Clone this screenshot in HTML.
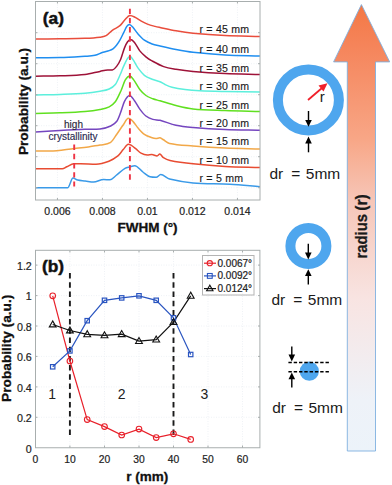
<!DOCTYPE html>
<html><head><meta charset="utf-8"><style>
html,body{margin:0;padding:0;background:#fff;}
svg{display:block;}
</style></head><body>
<svg width="392" height="485" viewBox="0 0 392 485">
<rect width="392" height="485" fill="#fff"/>
<g fill="none" stroke="#e8ecf2" stroke-width="0.7" stroke-dasharray="1,1.5">
<line x1="57.44" y1="2" x2="57.44" y2="200"/>
<line x1="102.44" y1="2" x2="102.44" y2="200"/>
<line x1="147.44" y1="2" x2="147.44" y2="200"/>
<line x1="192.44" y1="2" x2="192.44" y2="200"/>
<line x1="237.44" y1="2" x2="237.44" y2="200"/>
<line x1="36" y1="32.7" x2="260" y2="32.7"/>
<line x1="36" y1="63.7" x2="260" y2="63.7"/>
<line x1="36" y1="94.7" x2="260" y2="94.7"/>
<line x1="36" y1="125.7" x2="260" y2="125.7"/>
<line x1="36" y1="156.7" x2="260" y2="156.7"/>
<line x1="36" y1="187.7" x2="260" y2="187.7"/>
</g>
<path d="M35.50,39.10 C43.67,39.00 51.83,38.93 60.00,38.80 C68.33,38.67 76.67,38.63 85.00,38.30 C90.00,38.10 95.00,37.84 100.00,37.20 C102.03,36.94 104.07,36.74 106.10,35.60 C108.17,34.44 110.23,31.78 112.30,30.30 C114.83,28.48 117.37,27.78 119.90,25.70 C121.43,24.44 122.97,21.88 124.50,20.30 C126.30,18.45 128.10,15.40 129.90,15.40 C131.67,15.40 133.43,16.42 135.20,17.30 C137.23,18.32 139.27,19.98 141.30,21.10 C143.37,22.24 145.43,23.31 147.50,24.10 C150.03,25.07 152.57,25.71 155.10,26.40 C156.73,26.84 158.37,27.16 160.00,27.50 C165.33,28.62 170.67,29.88 176.00,30.80 C181.67,31.78 187.33,32.66 193.00,33.20 C203.67,34.22 214.33,34.97 225.00,35.50 C236.67,36.07 248.33,36.17 260.00,36.50" fill="none" stroke="#e94d3c" stroke-width="1.5" stroke-linejoin="round"/>
<path d="M35.50,57.70 C43.67,57.67 51.83,57.70 60.00,57.60 C68.33,57.50 76.67,56.85 85.00,56.30 C88.33,56.08 91.67,56.06 95.00,55.30 C97.67,54.69 100.33,53.08 103.00,52.20 C105.07,51.52 107.13,51.30 109.20,50.60 C110.47,50.17 111.73,49.72 113.00,48.80 C114.17,47.95 115.33,46.75 116.50,45.30 C117.63,43.89 118.77,42.20 119.90,40.20 C121.17,37.97 122.43,35.13 123.70,32.60 C124.73,30.53 125.77,27.89 126.80,26.40 C127.67,25.15 128.53,24.40 129.40,24.40 C130.57,24.40 131.73,25.92 132.90,27.20 C134.43,28.88 135.97,31.57 137.50,33.30 C139.80,35.90 142.10,38.51 144.40,40.20 C146.97,42.08 149.53,43.05 152.10,44.00 C154.73,44.98 157.37,45.39 160.00,46.00 C165.33,47.23 170.67,48.48 176.00,49.50 C181.67,50.58 187.33,51.66 193.00,52.30 C203.67,53.50 214.33,54.40 225.00,55.00 C236.67,55.66 248.33,55.73 260.00,56.10" fill="none" stroke="#1f8ef0" stroke-width="1.5" stroke-linejoin="round"/>
<path d="M35.50,76.20 C43.67,76.07 51.83,76.08 60.00,75.80 C68.33,75.51 76.67,75.42 85.00,74.50 C90.00,73.95 95.00,72.41 100.00,71.40 C102.57,70.88 105.13,69.90 107.70,69.90 C109.23,69.90 110.77,69.90 112.30,69.90 C113.80,69.90 115.30,68.01 116.80,66.10 C118.10,64.44 119.40,62.27 120.70,59.20 C121.97,56.21 123.23,51.09 124.50,47.90 C125.53,45.29 126.57,43.22 127.60,41.80 C128.60,40.42 129.60,39.50 130.60,39.50 C131.90,39.50 133.20,40.89 134.50,42.50 C136.27,44.69 138.03,48.68 139.80,50.90 C141.83,53.45 143.87,55.11 145.90,56.80 C147.77,58.35 149.63,59.57 151.50,60.60 C155.57,62.84 159.63,65.17 163.70,66.60 C167.80,68.04 171.90,68.53 176.00,69.20 C181.67,70.13 187.33,70.90 193.00,71.40 C203.67,72.34 214.33,73.01 225.00,73.50 C236.67,74.04 248.33,74.17 260.00,74.50" fill="none" stroke="#9e1238" stroke-width="1.5" stroke-linejoin="round"/>
<path d="M35.50,94.90 C43.67,94.73 51.83,94.66 60.00,94.40 C68.33,94.13 76.67,93.95 85.00,93.30 C90.00,92.91 95.00,92.19 100.00,91.30 C103.07,90.76 106.13,90.36 109.20,89.00 C111.23,88.10 113.27,87.10 115.30,84.50 C116.83,82.54 118.37,78.66 119.90,75.30 C121.17,72.53 122.43,68.88 123.70,66.10 C125.00,63.25 126.30,60.34 127.60,58.40 C128.47,57.11 129.33,56.40 130.20,56.40 C131.37,56.40 132.53,58.97 133.70,60.70 C135.23,62.97 136.77,66.31 138.30,68.40 C140.33,71.17 142.37,73.71 144.40,75.30 C146.97,77.31 149.53,78.15 152.10,79.20 C154.73,80.28 157.37,80.62 160.00,81.70 C161.67,82.38 163.33,83.72 165.00,84.50 C167.33,85.59 169.67,86.70 172.00,87.30 C176.33,88.41 180.67,89.06 185.00,89.60 C190.00,90.22 195.00,90.56 200.00,90.80 C208.33,91.20 216.67,91.33 225.00,91.50 C236.67,91.73 248.33,91.83 260.00,92.00" fill="none" stroke="#5cefdc" stroke-width="1.5" stroke-linejoin="round"/>
<path d="M35.50,113.40 C43.67,113.20 51.83,113.11 60.00,112.80 C68.33,112.48 76.67,112.19 85.00,111.50 C90.00,111.09 95.00,110.47 100.00,109.50 C103.07,108.90 106.13,108.34 109.20,106.80 C111.23,105.78 113.27,104.57 115.30,101.80 C117.20,99.21 119.10,94.86 121.00,90.70 C122.43,87.56 123.87,82.27 125.30,79.90 C126.83,77.37 128.37,76.00 129.90,76.00 C131.17,76.00 132.43,78.17 133.70,79.90 C135.73,82.67 137.77,86.90 139.80,89.50 C141.83,92.10 143.87,94.05 145.90,95.50 C148.20,97.15 150.50,97.94 152.80,98.80 C155.20,99.70 157.60,100.11 160.00,100.80 C165.33,102.34 170.67,104.19 176.00,105.50 C181.67,106.89 187.33,108.32 193.00,108.90 C203.67,109.99 214.33,110.09 225.00,110.50 C236.67,110.95 248.33,111.17 260.00,111.50" fill="none" stroke="#60e020" stroke-width="1.5" stroke-linejoin="round"/>
<path d="M35.50,132.00 C43.67,131.50 51.83,130.95 60.00,130.50 C68.33,130.05 76.67,129.61 85.00,129.30 C90.00,129.11 95.00,129.30 100.00,129.00 C103.57,128.79 107.13,127.63 110.70,126.00 C112.73,125.07 114.77,124.09 116.80,121.30 C118.10,119.52 119.40,115.68 120.70,112.30 C121.97,109.01 123.23,103.71 124.50,101.30 C126.20,98.07 127.90,95.40 129.60,95.40 C131.23,95.40 132.87,98.51 134.50,100.70 C136.27,103.07 138.03,106.73 139.80,109.10 C141.83,111.83 143.87,114.39 145.90,116.00 C148.20,117.82 150.50,118.70 152.80,119.40 C155.20,120.13 157.60,119.69 160.00,120.30 C165.33,121.66 170.67,124.14 176.00,125.30 C181.67,126.54 187.33,127.01 193.00,127.50 C203.67,128.41 214.33,129.07 225.00,129.50 C236.67,129.97 248.33,129.97 260.00,130.20" fill="none" stroke="#7546bf" stroke-width="1.5" stroke-linejoin="round"/>
<path d="M35.50,151.00 C40.33,151.00 45.17,151.00 50.00,151.00 C58.17,151.00 66.33,149.27 74.50,148.40 C79.10,147.91 83.70,147.50 88.30,146.90 C92.20,146.40 96.10,145.90 100.00,145.10 C103.57,144.37 107.13,144.61 110.70,142.30 C112.73,140.98 114.77,137.03 116.80,134.20 C118.87,131.33 120.93,128.06 123.00,125.20 C124.77,122.76 126.53,118.30 128.30,118.30 C129.83,118.30 131.37,119.87 132.90,121.40 C134.70,123.20 136.50,126.27 138.30,128.30 C140.33,130.60 142.37,132.96 144.40,134.40 C146.70,136.03 149.00,136.66 151.30,137.50 C152.83,138.06 154.37,138.60 155.90,138.60 C157.20,138.60 158.50,137.80 159.80,137.80 C160.87,137.80 161.93,138.89 163.00,139.50 C165.20,140.76 167.40,142.93 169.60,143.40 C177.40,145.06 185.20,145.25 193.00,145.90 C203.67,146.79 214.33,147.51 225.00,148.00 C236.67,148.54 248.33,148.67 260.00,149.00" fill="none" stroke="#f2a848" stroke-width="1.5" stroke-linejoin="round"/>
<path d="M35.50,168.80 C44.43,168.80 53.37,168.80 62.30,168.80 C63.80,168.80 65.30,167.47 66.80,166.80 C69.10,165.77 71.40,163.70 73.70,163.70 C76.00,163.70 78.30,163.70 80.60,163.70 C85.73,163.70 90.87,164.20 96.00,164.20 C100.30,164.20 104.60,162.83 108.90,161.20 C111.90,160.06 114.90,158.33 117.90,155.90 C119.67,154.47 121.43,151.57 123.20,149.60 C124.90,147.70 126.60,144.30 128.30,144.30 C129.20,144.30 130.10,144.66 131.00,145.20 C132.57,146.13 134.13,147.45 135.70,148.70 C137.47,150.11 139.23,152.24 141.00,153.20 C143.10,154.34 145.20,155.00 147.30,155.00 C148.80,155.00 150.30,154.50 151.80,154.50 C153.57,154.50 155.33,155.90 157.10,155.90 C158.00,155.90 158.90,154.10 159.80,154.10 C161.00,154.10 162.20,156.96 163.40,157.70 C165.60,159.06 167.80,159.95 170.00,160.40 C177.67,161.98 185.33,162.95 193.00,163.80 C203.67,164.98 214.33,165.90 225.00,166.50 C236.67,167.16 248.33,167.23 260.00,167.60" fill="none" stroke="#e84c32" stroke-width="1.5" stroke-linejoin="round"/>
<path d="M35.50,187.80 C46.20,187.80 56.90,187.80 67.60,187.80 C69.40,187.80 71.20,178.00 73.00,178.00 C74.53,178.00 76.07,179.72 77.60,180.10 C80.13,180.72 82.67,180.68 85.20,181.00 C88.00,181.35 90.80,182.10 93.60,182.10 C96.93,182.10 100.27,179.50 103.60,179.50 C105.73,179.50 107.87,179.80 110.00,179.80 C112.00,179.80 114.00,177.02 116.00,175.50 C119.00,173.22 122.00,170.29 125.00,168.40 C126.50,167.46 128.00,167.41 129.50,167.00 C131.27,166.51 133.03,165.70 134.80,165.70 C137.50,165.70 140.20,170.03 142.90,172.00 C145.27,173.73 147.63,176.23 150.00,176.80 C152.07,177.30 154.13,177.30 156.20,177.30 C157.70,177.30 159.20,174.60 160.70,174.60 C163.67,174.60 166.63,178.34 169.60,179.10 C177.40,181.10 185.20,182.24 193.00,182.90 C205.33,183.94 217.67,183.50 230.00,184.20 C240.00,184.77 250.00,185.87 260.00,186.70" fill="none" stroke="#3a9ae8" stroke-width="1.5" stroke-linejoin="round"/>
<g stroke="#ee3344" stroke-width="1.9" stroke-dasharray="5.4,3.8">
<line x1="129.9" y1="8.7" x2="129.9" y2="180.2"/>
<line x1="74.2" y1="144.6" x2="74.2" y2="186.5"/>
</g>
<rect x="35.5" y="1.5" width="224.5" height="198.5" fill="none" stroke="#a8aeae" stroke-width="1"/>
<g stroke="#a8aeae" stroke-width="1">
<line x1="57.44" y1="200" x2="57.44" y2="198"/><line x1="57.44" y1="1.5" x2="57.44" y2="3.5"/>
<line x1="102.44" y1="200" x2="102.44" y2="198"/><line x1="102.44" y1="1.5" x2="102.44" y2="3.5"/>
<line x1="147.44" y1="200" x2="147.44" y2="198"/><line x1="147.44" y1="1.5" x2="147.44" y2="3.5"/>
<line x1="192.44" y1="200" x2="192.44" y2="198"/><line x1="192.44" y1="1.5" x2="192.44" y2="3.5"/>
<line x1="237.44" y1="200" x2="237.44" y2="198"/><line x1="237.44" y1="1.5" x2="237.44" y2="3.5"/>
<line x1="35.5" y1="32.7" x2="37.5" y2="32.7"/><line x1="260" y1="32.7" x2="258" y2="32.7"/>
<line x1="35.5" y1="63.7" x2="37.5" y2="63.7"/><line x1="260" y1="63.7" x2="258" y2="63.7"/>
<line x1="35.5" y1="94.7" x2="37.5" y2="94.7"/><line x1="260" y1="94.7" x2="258" y2="94.7"/>
<line x1="35.5" y1="125.7" x2="37.5" y2="125.7"/><line x1="260" y1="125.7" x2="258" y2="125.7"/>
<line x1="35.5" y1="156.7" x2="37.5" y2="156.7"/><line x1="260" y1="156.7" x2="258" y2="156.7"/>
<line x1="35.5" y1="187.7" x2="37.5" y2="187.7"/><line x1="260" y1="187.7" x2="258" y2="187.7"/>
</g>
<g font-family="Liberation Sans, sans-serif" font-size="10.5" fill="#222" stroke="#222" stroke-width="0.2" text-anchor="middle">
<text x="57.44" y="215.3">0.006</text>
<text x="102.44" y="215.3">0.008</text>
<text x="147.44" y="215.3">0.01</text>
<text x="192.44" y="215.3">0.012</text>
<text x="237.44" y="215.3">0.014</text>
</g>
<g font-family="Liberation Sans, sans-serif" font-size="10.6" letter-spacing="0.2" fill="#1a1a1a" stroke="#1a1a1a" stroke-width="0.12">
<text x="199.5" y="33.2">r = 45 mm</text>
<text x="199.5" y="52.8">r = 40 mm</text>
<text x="199.5" y="71.6">r = 35 mm</text>
<text x="199.5" y="90.2">r = 30 mm</text>
<text x="199.5" y="108.8">r = 25 mm</text>
<text x="199.5" y="127.0">r = 20 mm</text>
<text x="199.5" y="145.4">r = 15 mm</text>
<text x="199.5" y="163.6">r = 10 mm</text>
<text x="199.5" y="182.2">r = 5 mm</text>
</g>
<text x="42.8" y="23.9" font-family="Liberation Sans, sans-serif" font-size="17.3" font-weight="bold" fill="#111" stroke="#111" stroke-width="0.5">(a)</text>
<text x="147.5" y="232.3" font-family="Liberation Sans, sans-serif" font-size="13.5" font-weight="bold" fill="#111" stroke="#111" stroke-width="0.3" text-anchor="middle">FWHM (°)</text>
<text transform="translate(27.9,101.5) rotate(-90)" font-family="Liberation Sans, sans-serif" font-size="13.7" font-weight="bold" fill="#111" stroke="#111" stroke-width="0.3" text-anchor="middle">Probability (a.u.)</text>
<text x="73.5" y="128" font-family="Liberation Sans, sans-serif" font-size="10" fill="#2a2a3a" stroke="#2a2a3a" stroke-width="0.15" text-anchor="middle">high</text>
<text x="73" y="139.5" font-family="Liberation Sans, sans-serif" font-size="10" fill="#2a2a50" stroke="#2a2a50" stroke-width="0.15" text-anchor="middle">crystallinity</text>
<g fill="none" stroke="#e8ecf2" stroke-width="0.7" stroke-dasharray="1,1.5">
<line x1="69.9" y1="251" x2="69.9" y2="447"/>
<line x1="104.5" y1="251" x2="104.5" y2="447"/>
<line x1="139.0" y1="251" x2="139.0" y2="447"/>
<line x1="173.5" y1="251" x2="173.5" y2="447"/>
<line x1="208.0" y1="251" x2="208.0" y2="447"/>
<line x1="242.5" y1="251" x2="242.5" y2="447"/>
<line x1="36" y1="417.3" x2="260" y2="417.3"/>
<line x1="36" y1="386.9" x2="260" y2="386.9"/>
<line x1="36" y1="356.4" x2="260" y2="356.4"/>
<line x1="36" y1="326.0" x2="260" y2="326.0"/>
<line x1="36" y1="295.6" x2="260" y2="295.6"/>
<line x1="36" y1="265.1" x2="260" y2="265.1"/>
</g>
<rect x="35.5" y="250.3" width="224.4" height="197.45" fill="none" stroke="#a8aeae" stroke-width="1"/>
<g stroke="#a8aeae" stroke-width="1">
<line x1="69.9" y1="447.75" x2="69.9" y2="445.5"/><line x1="69.9" y1="250.5" x2="69.9" y2="252.5"/>
<line x1="104.5" y1="447.75" x2="104.5" y2="445.5"/><line x1="104.5" y1="250.5" x2="104.5" y2="252.5"/>
<line x1="139.0" y1="447.75" x2="139.0" y2="445.5"/><line x1="139.0" y1="250.5" x2="139.0" y2="252.5"/>
<line x1="173.5" y1="447.75" x2="173.5" y2="445.5"/><line x1="173.5" y1="250.5" x2="173.5" y2="252.5"/>
<line x1="208.0" y1="447.75" x2="208.0" y2="445.5"/><line x1="208.0" y1="250.5" x2="208.0" y2="252.5"/>
<line x1="242.5" y1="447.75" x2="242.5" y2="445.5"/><line x1="242.5" y1="250.5" x2="242.5" y2="252.5"/>
<line x1="35.5" y1="417.3" x2="37.5" y2="417.3"/><line x1="260" y1="417.3" x2="258" y2="417.3"/>
<line x1="35.5" y1="386.9" x2="37.5" y2="386.9"/><line x1="260" y1="386.9" x2="258" y2="386.9"/>
<line x1="35.5" y1="356.4" x2="37.5" y2="356.4"/><line x1="260" y1="356.4" x2="258" y2="356.4"/>
<line x1="35.5" y1="326.0" x2="37.5" y2="326.0"/><line x1="260" y1="326.0" x2="258" y2="326.0"/>
<line x1="35.5" y1="295.6" x2="37.5" y2="295.6"/><line x1="260" y1="295.6" x2="258" y2="295.6"/>
<line x1="35.5" y1="265.1" x2="37.5" y2="265.1"/><line x1="260" y1="265.1" x2="258" y2="265.1"/>
</g>
<g font-family="Liberation Sans, sans-serif" font-size="10.3" fill="#222" stroke="#222" stroke-width="0.2" text-anchor="middle">
<text x="35.4" y="462.8">0</text>
<text x="69.9" y="462.8">10</text>
<text x="104.5" y="462.8">20</text>
<text x="139.0" y="462.8">30</text>
<text x="173.5" y="462.8">40</text>
<text x="208.0" y="462.8">50</text>
<text x="242.5" y="462.8">60</text>
</g>
<g font-family="Liberation Sans, sans-serif" font-size="10.7" fill="#222" stroke="#222" stroke-width="0.2" text-anchor="end">
<text x="31.8" y="452.6">0</text>
<text x="31.8" y="422.2">0.2</text>
<text x="31.8" y="391.8">0.4</text>
<text x="31.8" y="361.3">0.6</text>
<text x="31.8" y="330.9">0.8</text>
<text x="31.8" y="300.4">1</text>
<text x="31.8" y="270.0">1.2</text>
</g>
<g stroke="#1a1a1a" stroke-width="1.9" stroke-dasharray="5.5,3.7">
<line x1="69.9" y1="273.1" x2="69.9" y2="435.5"/>
<line x1="173.5" y1="273.1" x2="173.5" y2="435.5"/>
</g>
<polyline points="52.7,295.8 69.9,361.0 87.2,419.6 104.5,426.6 121.7,435.0 139.0,429.1 156.2,437.6 173.5,433.8 190.7,439.4" fill="none" stroke="#e8202a" stroke-width="1.2"/>
<polyline points="52.7,366.8 69.9,350.9 87.2,320.7 104.5,300.3 121.7,297.9 139.0,295.8 156.2,300.3 173.5,317.8 190.7,354.5" fill="none" stroke="#2a55c0" stroke-width="1.2"/>
<polyline points="52.7,324.5 69.9,330.5 87.2,334.3 104.5,335.4 121.7,334.2 139.0,341.1 156.2,339.6 173.5,322.1 190.7,295.8" fill="none" stroke="#111111" stroke-width="1.2"/>
<circle cx="52.7" cy="295.8" r="2.8" fill="none" stroke="#e8202a" stroke-width="1.1"/>
<circle cx="69.9" cy="361.0" r="2.8" fill="none" stroke="#e8202a" stroke-width="1.1"/>
<circle cx="87.2" cy="419.6" r="2.8" fill="none" stroke="#e8202a" stroke-width="1.1"/>
<circle cx="104.5" cy="426.6" r="2.8" fill="none" stroke="#e8202a" stroke-width="1.1"/>
<circle cx="121.7" cy="435.0" r="2.8" fill="none" stroke="#e8202a" stroke-width="1.1"/>
<circle cx="139.0" cy="429.1" r="2.8" fill="none" stroke="#e8202a" stroke-width="1.1"/>
<circle cx="156.2" cy="437.6" r="2.8" fill="none" stroke="#e8202a" stroke-width="1.1"/>
<circle cx="173.5" cy="433.8" r="2.8" fill="none" stroke="#e8202a" stroke-width="1.1"/>
<circle cx="190.7" cy="439.4" r="2.8" fill="none" stroke="#e8202a" stroke-width="1.1"/>
<rect x="50.5" y="364.6" width="4.4" height="4.4" fill="none" stroke="#2a55c0" stroke-width="1.2"/>
<rect x="67.7" y="348.7" width="4.4" height="4.4" fill="none" stroke="#2a55c0" stroke-width="1.2"/>
<rect x="85.0" y="318.5" width="4.4" height="4.4" fill="none" stroke="#2a55c0" stroke-width="1.2"/>
<rect x="102.3" y="298.1" width="4.4" height="4.4" fill="none" stroke="#2a55c0" stroke-width="1.2"/>
<rect x="119.5" y="295.7" width="4.4" height="4.4" fill="none" stroke="#2a55c0" stroke-width="1.2"/>
<rect x="136.8" y="293.6" width="4.4" height="4.4" fill="none" stroke="#2a55c0" stroke-width="1.2"/>
<rect x="154.0" y="298.1" width="4.4" height="4.4" fill="none" stroke="#2a55c0" stroke-width="1.2"/>
<rect x="171.3" y="315.6" width="4.4" height="4.4" fill="none" stroke="#2a55c0" stroke-width="1.2"/>
<rect x="188.5" y="352.3" width="4.4" height="4.4" fill="none" stroke="#2a55c0" stroke-width="1.2"/>
<polygon points="52.7,320.9 49.3,326.9 56.1,326.9" fill="none" stroke="#111" stroke-width="1.1"/>
<polygon points="69.9,326.9 66.5,332.9 73.3,332.9" fill="none" stroke="#111" stroke-width="1.1"/>
<polygon points="87.2,330.7 83.8,336.7 90.6,336.7" fill="none" stroke="#111" stroke-width="1.1"/>
<polygon points="104.5,331.8 101.1,337.8 107.9,337.8" fill="none" stroke="#111" stroke-width="1.1"/>
<polygon points="121.7,330.6 118.3,336.6 125.1,336.6" fill="none" stroke="#111" stroke-width="1.1"/>
<polygon points="139.0,337.5 135.6,343.5 142.4,343.5" fill="none" stroke="#111" stroke-width="1.1"/>
<polygon points="156.2,336.0 152.8,342.0 159.6,342.0" fill="none" stroke="#111" stroke-width="1.1"/>
<polygon points="173.5,318.5 170.1,324.5 176.9,324.5" fill="none" stroke="#111" stroke-width="1.1"/>
<polygon points="190.7,292.2 187.3,298.2 194.1,298.2" fill="none" stroke="#111" stroke-width="1.1"/>
<g font-family="Liberation Sans, sans-serif" font-size="14" fill="#222" text-anchor="middle">
<text x="52.1" y="399.3">1</text><text x="121.7" y="399.3">2</text><text x="204.5" y="399.3">3</text>
</g>
<text x="42" y="271.5" font-family="Liberation Sans, sans-serif" font-size="17.3" font-weight="bold" fill="#111" stroke="#111" stroke-width="0.5">(b)</text>
<text x="147.2" y="480.8" font-family="Liberation Sans, sans-serif" font-size="13.5" font-weight="bold" fill="#111" stroke="#111" stroke-width="0.3" text-anchor="middle">r (mm)</text>
<text transform="translate(10.9,348.3) rotate(-90)" font-family="Liberation Sans, sans-serif" font-size="13.7" font-weight="bold" fill="#111" stroke="#111" stroke-width="0.3" text-anchor="middle">Probability (a.u.)</text>
<rect x="202.5" y="255.5" width="51.5" height="39.5" fill="none" stroke="#b4b4b4" stroke-width="1"/>
<line x1="204" y1="263.2" x2="216" y2="263.2" stroke="#e8202a" stroke-width="1.2"/>
<circle cx="209.8" cy="263.2" r="2.6" fill="none" stroke="#e8202a" stroke-width="1.1"/>
<text x="217.5" y="266.7" font-family="Liberation Sans, sans-serif" font-size="10" fill="#222" stroke="#222" stroke-width="0.2">0.0067°</text>
<line x1="204" y1="275.9" x2="216" y2="275.9" stroke="#2a55c0" stroke-width="1.2"/>
<rect x="207.4" y="273.5" width="4.8" height="4.8" fill="none" stroke="#2a55c0" stroke-width="1.1"/>
<text x="217.5" y="279.4" font-family="Liberation Sans, sans-serif" font-size="10" fill="#222" stroke="#222" stroke-width="0.2">0.0092°</text>
<line x1="204" y1="288.59999999999997" x2="216" y2="288.59999999999997" stroke="#111" stroke-width="1.2"/>
<polygon points="209.8,285.2 206.6,290.79999999999995 213,290.79999999999995" fill="none" stroke="#111" stroke-width="1.1"/>
<text x="217.5" y="292.09999999999997" font-family="Liberation Sans, sans-serif" font-size="10" fill="#222" stroke="#222" stroke-width="0.2">0.0124°</text>
<circle cx="308.4" cy="100" r="30.5" fill="none" stroke="#4ea6ee" stroke-width="10"/>
<circle cx="308.4" cy="246" r="18" fill="none" stroke="#4ea6ee" stroke-width="10"/>
<circle cx="309.3" cy="371.2" r="9.6" fill="#4ea6ee"/>
<line x1="308" y1="100" x2="322" y2="88" stroke="#f0202a" stroke-width="1.8"/>
<polygon points="327.5,83.3 318.5,85.5 323.5,91.5" fill="#f0202a"/>
<text x="319.8" y="101.5" font-family="Liberation Sans, sans-serif" font-size="15" fill="#222">r</text>
<line x1="308.5" y1="111" x2="308.5" y2="121.8" stroke="#000" stroke-width="1.4"/>
<polygon points="305.2,120.0 311.8,120.0 308.5,126.8" fill="#000"/>
<line x1="308.5" y1="152.3" x2="308.5" y2="141.6" stroke="#000" stroke-width="1.4"/>
<polygon points="305.2,143.4 311.8,143.4 308.5,136.6" fill="#000"/>
<line x1="308.3" y1="243.7" x2="308.3" y2="254.39999999999998" stroke="#000" stroke-width="1.4"/>
<polygon points="305.0,252.59999999999997 311.6,252.59999999999997 308.3,259.4" fill="#000"/>
<line x1="308.3" y1="284.5" x2="308.3" y2="274.2" stroke="#000" stroke-width="1.4"/>
<polygon points="305.0,276.0 311.6,276.0 308.3,269.2" fill="#000"/>
<line x1="291.8" y1="346.4" x2="291.8" y2="356.4" stroke="#000" stroke-width="1.4"/>
<polygon points="288.5,354.59999999999997 295.1,354.59999999999997 291.8,361.4" fill="#000"/>
<line x1="291.8" y1="387.5" x2="291.8" y2="377.5" stroke="#000" stroke-width="1.4"/>
<polygon points="288.5,379.3 295.1,379.3 291.8,372.5" fill="#000"/>
<g stroke="#000" stroke-width="1.5" stroke-dasharray="3.4,1.9">
<line x1="288.4" y1="362.5" x2="330" y2="362.5"/><line x1="288.4" y1="371.7" x2="330" y2="371.7"/>
</g>
<g font-family="Liberation Sans, sans-serif" font-size="15.5" fill="#1a1a1a">
<text x="269.5" y="178.7">dr</text><text x="291.3" y="178.7">=</text><text x="305.8" y="178.7">5mm</text>
<text x="271.5" y="304.7">dr</text><text x="293.3" y="304.7">=</text><text x="307.8" y="304.7">5mm</text>
<text x="272.2" y="413.3">dr</text><text x="294.0" y="413.3">=</text><text x="308.5" y="413.3">5mm</text>
</g>
<defs><linearGradient id="g" x1="0" y1="0" x2="0" y2="1"><stop offset="0" stop-color="#f47844"/><stop offset="0.09" stop-color="#f5845a"/><stop offset="0.30" stop-color="#f8a686"/><stop offset="0.44" stop-color="#f6c6b8"/><stop offset="0.66" stop-color="#f8e4e2"/><stop offset="0.885" stop-color="#eef2f8"/><stop offset="1" stop-color="#ecf3fa"/></linearGradient></defs>
<polygon points="361.4,4.6 389.7,61.9 375.5,61.9 375.5,451 347.3,451 347.3,61.9 333.6,61.9" fill="url(#g)" stroke="#7fb0e0" stroke-width="0.9"/>
<g font-family="Liberation Sans, sans-serif" font-size="15.8" font-weight="bold" fill="#1a1a1a" stroke="#1a1a1a" stroke-width="0.25"><text transform="translate(366.5,258.6) rotate(-90) scale(0.94,1)">radius</text><text transform="translate(366.5,210.8) rotate(-90)">(r)</text></g>
</svg>
</body></html>
